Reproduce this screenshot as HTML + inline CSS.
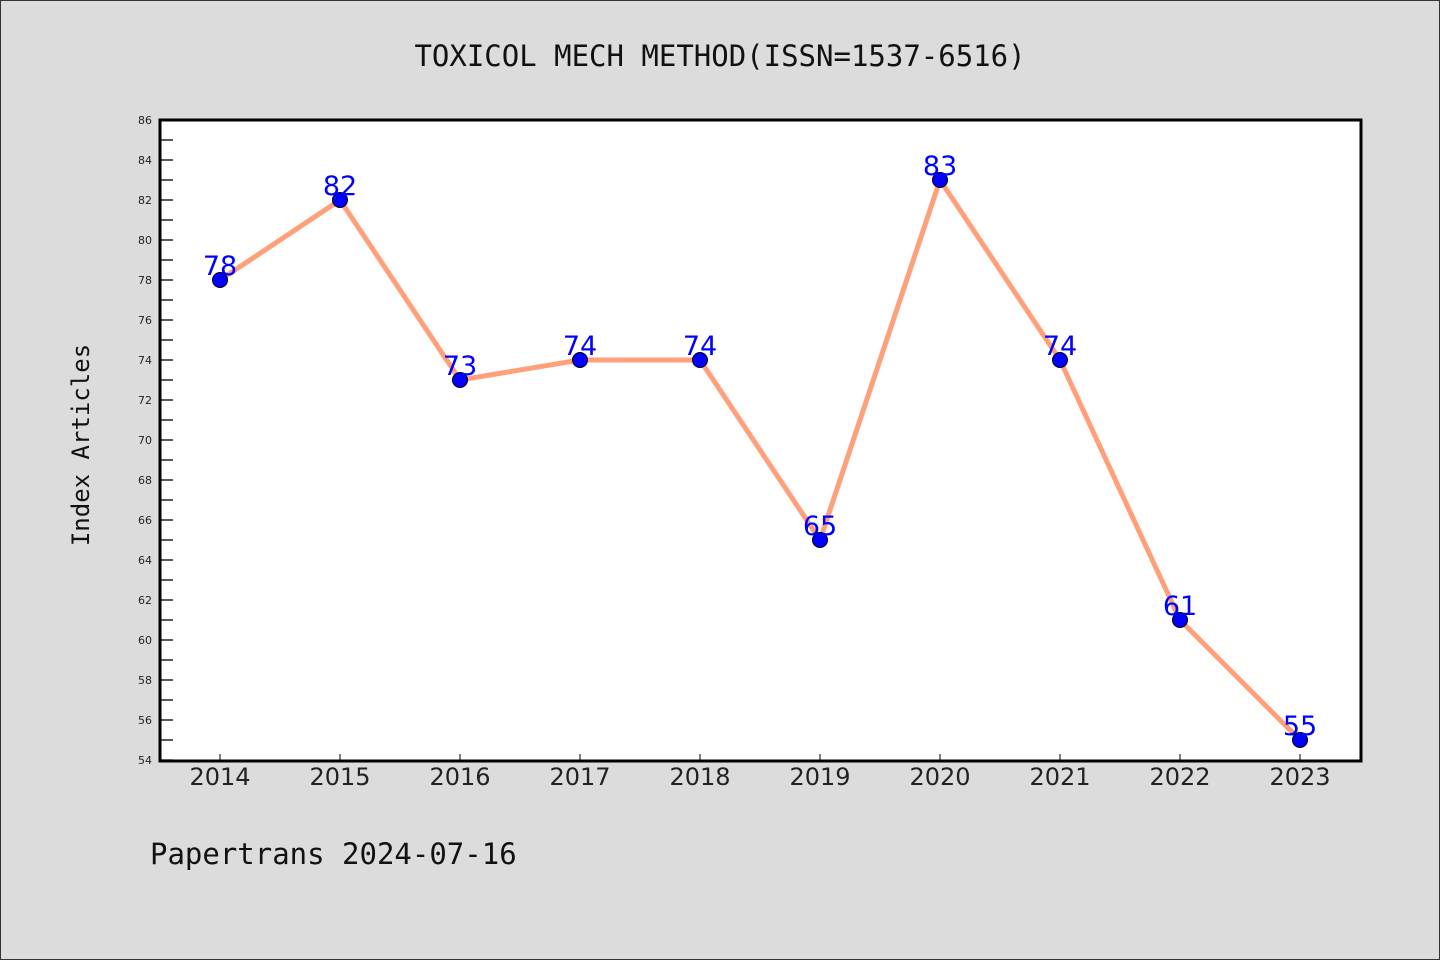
<!DOCTYPE html>
<html><head><meta charset="utf-8"><style>
html,body{margin:0;padding:0;background:#dcdcdc;}
svg{display:block;}
</style></head><body>
<svg id="chart" width="1440" height="960" xmlns="http://www.w3.org/2000/svg" font-family="'DejaVu Sans Mono','Liberation Mono',monospace">
<rect x="0.5" y="0.5" width="1439" height="959" fill="#dcdcdc" stroke="#333" stroke-width="1"/>
<text x="720" y="66" font-size="29" text-anchor="middle" fill="#111">TOXICOL MECH METHOD(ISSN=1537-6516)</text>
<rect x="160" y="120" width="1201" height="641" fill="#fff"/>
<g id="axes"></g>
<g id="series"></g>
<rect x="160" y="120" width="1201" height="641" fill="none" stroke="#000" stroke-width="3"/>
<text transform="translate(89,445) rotate(-90)" font-size="24" text-anchor="middle" fill="#111">Index Articles</text>
<text x="150" y="864" font-size="29" fill="#111">Papertrans 2024-07-16</text>
</svg>
<script>
const years = [2014,2015,2016,2017,2018,2019,2020,2021,2022,2023];
const values = [78,82,73,74,74,65,83,74,61,55];
const yMin = 54, yMax = 86;
const NS = 'http://www.w3.org/2000/svg';
const L=160,R=1361,T=120,B=760;
function x(i){return 220 + i*120;}
function y(v){return B - (v-yMin)/(yMax-yMin)*(B-T);}
function mk(tag, attrs, parent){const e=document.createElementNS(NS,tag);for(const k in attrs)e.setAttribute(k,attrs[k]);parent.appendChild(e);return e;}
const axes=document.getElementById('axes'), series=document.getElementById('series');
for(let v=yMin; v<=yMax; v++){
  const t=mk('line',{x1:L,x2:L+13,y1:y(v),y2:y(v),stroke:'#000','stroke-width':1.3},axes);
  
  
  if(v%2===0){
    const lb=mk('text',{x:152,y:y(v)+4,'font-size':11,'text-anchor':'end',fill:'#222','font-family':"'DejaVu Sans',sans-serif"},axes);
    
    
    lb.textContent=v;
  }
}
years.forEach((yr,i)=>{
  const t=mk('line',{x1:x(i),x2:x(i),y1:B-6,y2:B,stroke:'#000','stroke-width':1},axes);
  
  
  const lb=mk('text',{x:x(i),y:785,'font-size':24,'text-anchor':'middle',fill:'#222','font-family':"'DejaVu Sans',sans-serif"},axes);
  
  
  lb.textContent=yr;
});
const pl=mk('polyline',{points:values.map((v,i)=>x(i)+','+y(v)).join(' '),fill:'none',stroke:'#ffa07a','stroke-width':5,'stroke-linejoin':'round'},series);


values.forEach((v,i)=>{
  const c=mk('circle',{cx:x(i),cy:y(v),r:7.5,fill:'#0000ff',stroke:'#000','stroke-width':1},series);
  
  
  const lb=mk('text',{x:x(i),y:y(v)-5,'font-size':27,'text-anchor':'middle',fill:'#0000ff','font-family':"'DejaVu Sans',sans-serif"},series);
  
  
  lb.textContent=v;
});
</script>
</body></html>
